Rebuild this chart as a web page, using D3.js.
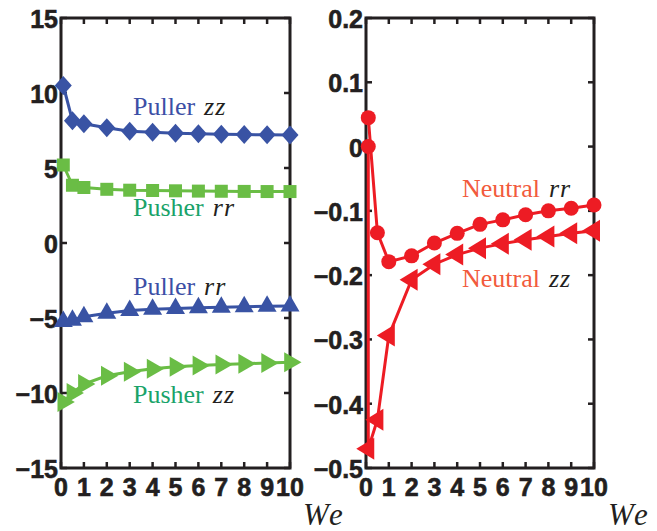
<!DOCTYPE html>
<html><head><meta charset="utf-8">
<script src="https://cdn.jsdelivr.net/npm/d3@7"></script>
<style>body{margin:0;background:#fff}svg{display:block}</style>
</head><body><svg id="c" width="657" height="531"></svg>
<script>
// ---- data ----
const xVals = [0.1, 0.5, 1, 2, 3, 4, 5, 6, 7, 8, 9, 10];
const pullerZz = [10.5, 8.15, 7.95, 7.68, 7.45, 7.38, 7.32, 7.28, 7.25, 7.23, 7.21, 7.2];
const pusherRr = [5.2, 3.85, 3.7, 3.58, 3.52, 3.5, 3.48, 3.46, 3.45, 3.44, 3.43, 3.43];
const pullerRr = [-5.23, -5.15, -4.92, -4.68, -4.5, -4.42, -4.36, -4.32, -4.28, -4.25, -4.22, -4.2];
const pusherZz = [-10.6, -10.0, -9.4, -8.85, -8.58, -8.38, -8.25, -8.17, -8.1, -8.05, -8.0, -7.95];
const neutralRr = [0.045, -0.134, -0.179, -0.170, -0.150, -0.135, -0.121, -0.114, -0.106, -0.100, -0.096, -0.091];
// Neutral zz: starts at (0.1, 0) (circle marker), then triangles
const neutralZzX = [0.1, 0.1, 0.5, 1, 2, 3, 4, 5, 6, 7, 8, 9, 10];
const neutralZz = [0, -0.47, -0.425, -0.294, -0.207, -0.183, -0.168, -0.158, -0.151, -0.145, -0.140, -0.135, -0.131];
const xTicks = [0, 1, 2, 3, 4, 5, 6, 7, 8, 9, 10];
const yTicksLeft = [-15, -10, -5, 0, 5, 10, 15];
const yTicksRight = [-0.5, -0.4, -0.3, -0.2, -0.1, 0, 0.1, 0.2];

const BLUE = "#3953a4", GREEN = "#6abd45", RED = "#ed1c24";
const svg = d3.select("#c");

const markers = {
  diamond: "M0,-9.5L8.5,0L0,9.5L-8.5,0Z",
  square: "M-6.5,-6.5H6.5V6.5H-6.5Z",
  up: "M0,-11L9.5,5.5L-9.5,5.5Z",
  right: "M11.5,0L-5.8,-10L-5.8,10Z",
  left: "M-12,0L6,-11L6,11Z"
};

function panel(x0, x1, yDomain, yTicks, fmt) {
  const y0 = 18, y1 = 468;
  const x = d3.scaleLinear().domain([0, 10]).range([x0, x1]);
  const y = d3.scaleLinear().domain(yDomain).range([y1, y0]);
  const g = svg.append("g");
  const tl = 6;
  const ax = g.append("g").attr("stroke", "#231f20").attr("stroke-width", 2.5);
  xTicks.forEach(t => {
    ax.append("line").attr("x1", x(t)).attr("x2", x(t)).attr("y1", y1).attr("y2", y1 - tl);
    ax.append("line").attr("x1", x(t)).attr("x2", x(t)).attr("y1", y0).attr("y2", y0 + tl);
  });
  yTicks.forEach(t => {
    ax.append("line").attr("x1", x0).attr("x2", x0 + tl).attr("y1", y(t)).attr("y2", y(t));
    ax.append("line").attr("x1", x1).attr("x2", x1 - tl).attr("y1", y(t)).attr("y2", y(t));
  });
  g.append("rect").attr("x", x0).attr("y", y0).attr("width", x1 - x0).attr("height", y1 - y0)
    .attr("fill", "none").attr("stroke", "#231f20").attr("stroke-width", 3);
  const tf = "'Liberation Sans', Arial, sans-serif";
  g.append("g").selectAll("text").data(xTicks).join("text")
    .attr("x", d => x(d)).attr("y", y1 + 28).attr("text-anchor", "middle")
    .attr("font-family", tf).attr("font-weight", "bold").attr("font-size", 25).attr("fill", "#231f20")
    .attr("stroke", "#231f20").attr("stroke-width", 0.6)
    .text(d => d);
  g.append("g").selectAll("text").data(yTicks).join("text")
    .attr("x", x0 - 3).attr("y", d => y(d) + 10).attr("text-anchor", "end")
    .attr("font-family", tf).attr("font-weight", "bold").attr("font-size", 25).attr("fill", "#231f20")
    .attr("stroke", "#231f20").attr("stroke-width", 0.6)
    .text(d => fmt(d));
  return {x, y, g};
}

function series(p, xs, ys, color, marker, skipFirstMarker) {
  const line = d3.line().x((d, i) => p.x(xs[i])).y(d => p.y(d));
  p.g.append("path").attr("d", line(ys)).attr("fill", "none").attr("stroke", color).attr("stroke-width", 3);
  p.g.append("g").selectAll("path").data(ys.map((v, i) => [xs[i], v]).filter((d, i) => !(skipFirstMarker && i === 0)))
    .join("path").attr("d", markers[marker]).attr("fill", color)
    .attr("transform", d => `translate(${p.x(d[0])},${p.y(d[1])})`);
}
function circles(p, xs, ys, color) {
  p.g.append("g").selectAll("circle").data(ys.map((v, i) => [xs[i], v])).join("circle")
    .attr("cx", d => p.x(d[0])).attr("cy", d => p.y(d[1])).attr("r", 7.5).attr("fill", color);
}

const minus = s => s.replace("-", "\u2212");
const L = panel(61, 290, [-15, 15], yTicksLeft, d => minus(String(d)));
const R = panel(366, 594, [-0.5, 0.2], yTicksRight, d => minus(d === 0 ? "0" : d3.format(".1f")(d)));

series(L, xVals, pullerZz, BLUE, "diamond");
series(L, xVals, pusherRr, GREEN, "square");
series(L, xVals, pullerRr, BLUE, "up");
series(L, xVals, pusherZz, GREEN, "right");

series(R, neutralZzX, neutralZz, RED, "left", true);
circles(R, neutralZzX.slice(0, 1), neutralZz.slice(0, 1), RED);
const lineR = d3.line().x((d, i) => R.x(xVals[i])).y(d => R.y(d));
R.g.append("path").attr("d", lineR(neutralRr)).attr("fill", "none").attr("stroke", RED).attr("stroke-width", 3);
circles(R, xVals, neutralRr, RED);

const sf = "'Liberation Serif', 'Times New Roman', serif";
function label(x, y, word, sub, color) {
  const t = svg.append("text").attr("x", x).attr("y", y).attr("font-family", sf).attr("font-size", 26);
  t.append("tspan").attr("fill", color).text(word);
  t.append("tspan").attr("fill", "#231f20").attr("font-style", "italic").attr("dx", 9).attr("letter-spacing", 1).text(sub);
}
label(133, 115, "Puller", "zz", "#3c4fa6");
label(133, 216, "Pusher", "rr", "#1aa36a");
label(133, 295, "Puller", "rr", "#3c4fa6");
label(133, 403, "Pusher", "zz", "#1aa36a");
label(462, 197, "Neutral", "rr", "#f25a3c");
label(462, 287, "Neutral", "zz", "#f25a3c");

[303, 608].forEach(xx => {
  svg.append("text").attr("x", xx).attr("y", 525).attr("font-family", sf).attr("font-style", "italic")
    .attr("font-size", 31).attr("letter-spacing", 3).attr("fill", "#231f20").text("We");
});
</script></body></html>
